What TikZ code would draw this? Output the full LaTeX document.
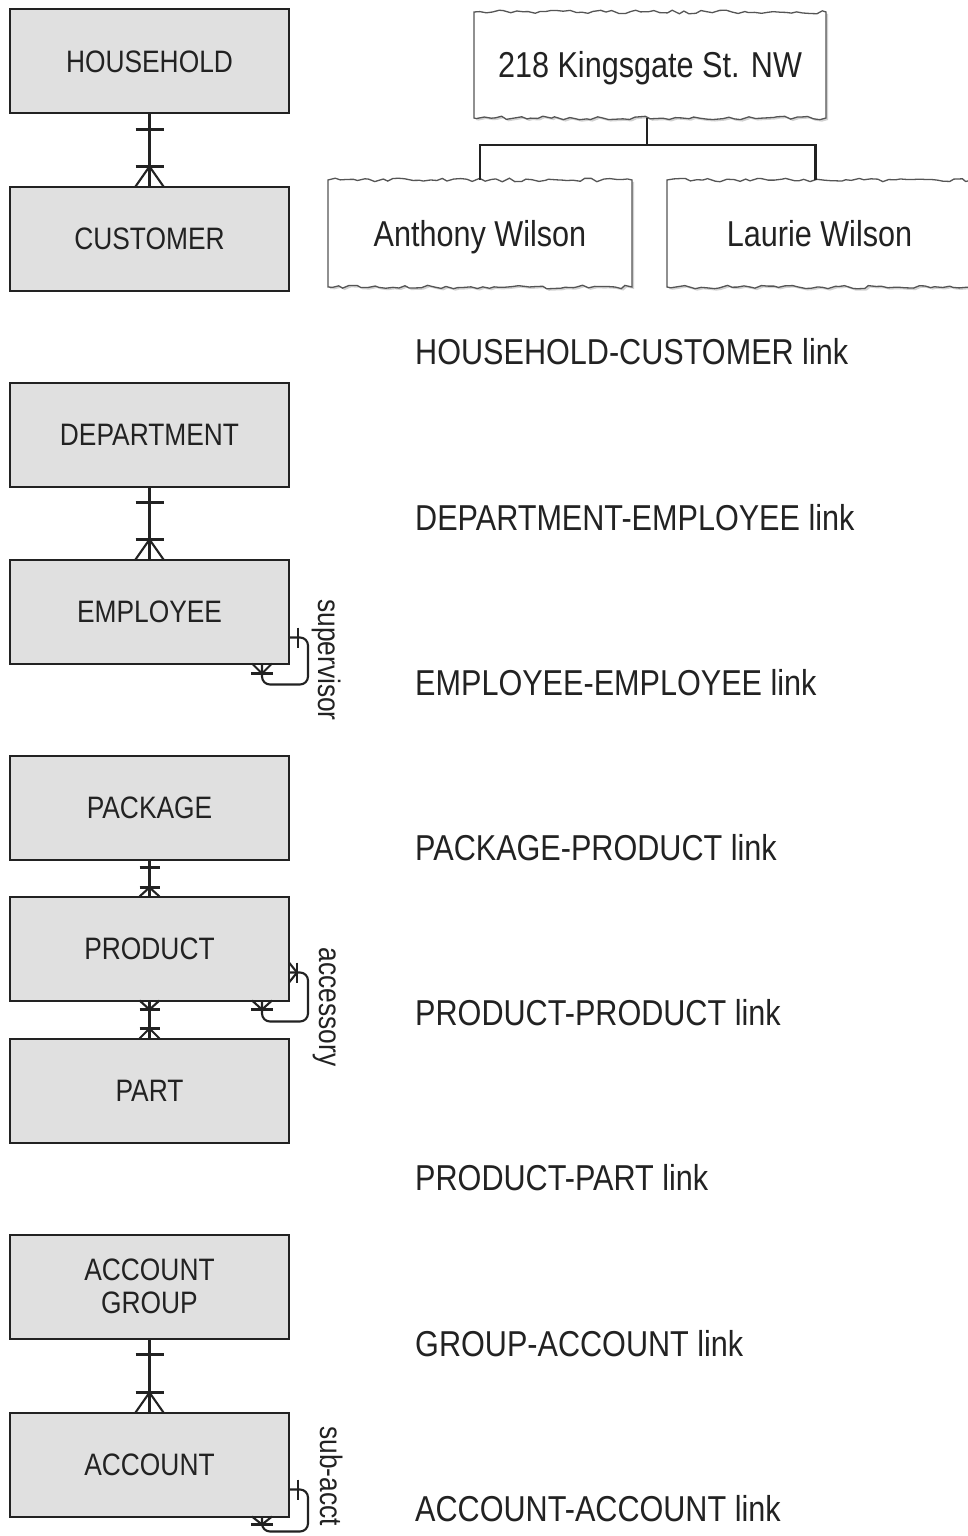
\documentclass[tikz,border=0pt]{standalone}
\usepackage{fontspec}
\setmainfont{Liberation Sans}[FakeStretch=0.85]
\usetikzlibrary{calc,shadows,backgrounds,decorations.pathmorphing}

\definecolor{entfill}{HTML}{E0E0E0}
\definecolor{ink}{HTML}{222222}
\definecolor{frame}{HTML}{555555}

\tikzset{
  ent/.style={draw=ink, fill=entfill, line width=2pt, minimum width=279pt,
    minimum height=104pt, inner sep=0pt, outer sep=0pt, text=ink,
    font=\fontsize{31}{35}\selectfont, align=center},
  link/.style={draw=ink, line width=2.1pt},
  loop/.style={link, rounded corners=8pt},
  looplbl/.style={text=ink, font=\fontsize{31}{35}\selectfont, inner sep=0pt, rotate=-90},
  linklbl/.style={text=ink, font=\fontsize{36}{40}\selectfont, inner sep=0pt, anchor=west},
  tree/.style={text=ink, font=\fontsize{36}{40}\selectfont, inner sep=0pt, outer sep=0pt,
    text height=31pt, text depth=5pt},
  torn/.style={draw=frame, line width=1.3pt, fill=white,
    decoration={random steps, segment length=6pt, amplitude=1.8pt},
    drop shadow={shadow xshift=2pt, shadow yshift=-2pt, opacity=0.35}},
  treeline/.style={draw=ink, line width=2.1pt}
}

% frame with torn top and bottom edges around a named node
\newcommand\tornframe[1]{%
  \path[torn] (#1.north west) decorate{-- (#1.north east)} -- (#1.south east)
    decorate{-- (#1.south west)} -- cycle;}

\begin{document}
\begin{tikzpicture}[x=1pt, y=-1pt]
\pgfmathsetseed{7}
\useasboundingbox (0,0) rectangle (968,1536);
\clip (0,0) rectangle (968,1536);

% ---------------- entity boxes ----------------
\node[ent] (hh)   at (149.5,61.5)   {HOUSEHOLD};
\node[ent] (cu)   at (149.5,238.5)  {CUSTOMER};
\node[ent] (dep)  at (149.5,434.5)  {DEPARTMENT};
\node[ent] (emp)  at (149.5,611.5)  {EMPLOYEE};
\node[ent] (pkg)  at (149.5,807.5)  {PACKAGE};
\node[ent] (prod) at (149.5,948.5)  {PRODUCT};
\node[ent] (part) at (149.5,1090.5) {PART};
\node[ent] (grp)  at (149.5,1286.5) {ACCOUNT\\[-2pt]GROUP};
\node[ent] (acc)  at (149.5,1464.5) {ACCOUNT};

% ---------------- one-to-many links ----------------
% HOUSEHOLD - CUSTOMER
\draw[link] (hh.south) -- (cu.north);
\draw[link] ($(hh.south)+(-14,16)$) -- ++(28,0);
\draw[link] ($(cu.north)+(-14,-20)$) -- ++(28,0);
\draw[link] ($(cu.north)+(-14,0)$) -- ($(cu.north)+(0,-20)$) -- ($(cu.north)+(14,0)$);

% DEPARTMENT - EMPLOYEE
\draw[link] (dep.south) -- (emp.north);
\draw[link] ($(dep.south)+(-14,16)$) -- ++(28,0);
\draw[link] ($(emp.north)+(-14,-20)$) -- ++(28,0);
\draw[link] ($(emp.north)+(-14,0)$) -- ($(emp.north)+(0,-20)$) -- ($(emp.north)+(14,0)$);

% PACKAGE - PRODUCT
\draw[link] (pkg.south) -- (prod.north);
\draw[link] ($(pkg.south)+(-10,8)$) -- ++(20,0);
\draw[link] ($(prod.north)+(-10,-9)$) -- ++(20,0);
\draw[link] ($(prod.north)+(-10,0)$) -- ($(prod.north)+(0,-9)$) -- ($(prod.north)+(10,0)$);

% PRODUCT - PART (many on both ends)
\draw[link] (prod.south) -- (part.north);
\draw[link] ($(prod.south)+(-10,9)$) -- ++(20,0);
\draw[link] ($(prod.south)+(-10,0)$) -- ($(prod.south)+(0,9)$) -- ($(prod.south)+(10,0)$);
\draw[link] ($(part.north)+(-10,-10)$) -- ++(20,0);
\draw[link] ($(part.north)+(-10,0)$) -- ($(part.north)+(0,-10)$) -- ($(part.north)+(10,0)$);

% ACCOUNT GROUP - ACCOUNT
\draw[link] (grp.south) -- (acc.north);
\draw[link] ($(grp.south)+(-14,16)$) -- ++(28,0);
\draw[link] ($(acc.north)+(-14,-20)$) -- ++(28,0);
\draw[link] ($(acc.north)+(-14,0)$) -- ($(acc.north)+(0,-20)$) -- ($(acc.north)+(14,0)$);

% ---------------- recursive links ----------------
% EMPLOYEE supervisor
\draw[loop] ($(emp.south east)+(0,-26)$) -- ($(emp.south east)+(19,-26)$)
  -- ($(emp.south east)+(19,21)$) -- ($(emp.south east)+(-27,21)$) -- ($(emp.south east)+(-27,0)$);
\draw[link] ($(emp.south east)+(9,-36)$) -- ++(0,20);
\draw[link] ($(emp.south east)+(-38,10)$) -- ++(22,0);
\draw[link] ($(emp.south east)+(-37,0)$) -- ($(emp.south east)+(-27,10)$) -- ($(emp.south east)+(-17,0)$);
\node[looplbl] (sup) at (327,660) {supervisor};

% PRODUCT accessory
\draw[loop] ($(prod.south east)+(0,-28)$) -- ($(prod.south east)+(19,-28)$)
  -- ($(prod.south east)+(19,21)$) -- ($(prod.south east)+(-27,21)$) -- ($(prod.south east)+(-27,0)$);
\draw[link] ($(prod.south east)+(8,-38)$) -- ++(0,20);
\draw[link] ($(prod.south east)+(0,-38)$) -- ($(prod.south east)+(8,-28)$) -- ($(prod.south east)+(0,-18)$);
\draw[link] ($(prod.south east)+(-38,9)$) -- ++(22,0);
\draw[link] ($(prod.south east)+(-37,0)$) -- ($(prod.south east)+(-27,9)$) -- ($(prod.south east)+(-17,0)$);
\node[looplbl] (accy) at (325,1007) {accessory};

% ACCOUNT sub-acct
\draw[loop] ($(acc.south east)+(0,-27)$) -- ($(acc.south east)+(19,-27)$)
  -- ($(acc.south east)+(19,15)$) -- ($(acc.south east)+(-27,15)$) -- ($(acc.south east)+(-27,0)$);
\draw[link] ($(acc.south east)+(9,-37)$) -- ++(0,20);
\draw[link] ($(acc.south east)+(-38,8)$) -- ++(22,0);
\draw[link] ($(acc.south east)+(-37,0)$) -- ($(acc.south east)+(-27,8)$) -- ($(acc.south east)+(-17,0)$);
\node[looplbl] (sub) at (332,1476) {sub-acct};

% ---------------- household instance tree ----------------
\node[tree, minimum width=352pt, minimum height=106pt] (addr) at (650,65) {218 Kingsgate St. NW};
\node[tree, minimum width=304pt, minimum height=107pt] (tony) at (480,233.5) {Anthony Wilson};
\node[tree, minimum width=305pt, minimum height=107pt] (laur) at (819.5,233.5) {Laurie Wilson};
\begin{pgfonlayer}{background}
  \fill[white] (0,0) rectangle (968,1536);
  \tornframe{addr}
  \tornframe{tony}
  \tornframe{laur}
\end{pgfonlayer}
\coordinate (fork) at ($(addr.south)+(-3,27)$);
\draw[treeline] ($(addr.south)+(-3,0)$) -- (fork);
\draw[treeline] (tony.north) |- (fork) -| ($(laur.north)+(-4,0)$);

% ---------------- link table names ----------------
\node[linklbl] (l1) at (415,352)  {HOUSEHOLD-CUSTOMER link};
\node[linklbl] (l2) at (415,518)  {DEPARTMENT-EMPLOYEE link};
\node[linklbl] (l3) at (415,683)  {EMPLOYEE-EMPLOYEE link};
\node[linklbl] (l4) at (415,848)  {PACKAGE-PRODUCT link};
\node[linklbl] (l5) at (415,1013) {PRODUCT-PRODUCT link};
\node[linklbl] (l6) at (415,1178) {PRODUCT-PART link};
\node[linklbl] (l7) at (415,1344) {GROUP-ACCOUNT link};
\node[linklbl] (l8) at (415,1509) {ACCOUNT-ACCOUNT link};
\end{tikzpicture}
\end{document}
